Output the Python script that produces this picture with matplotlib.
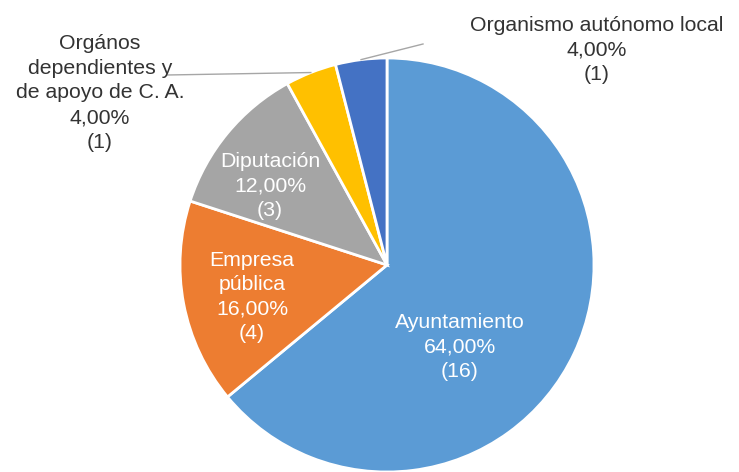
import matplotlib.pyplot as plt
import numpy as np

labels = ['Ayuntamiento', 'Empresa\npública', 'Diputación',
          'Orgános\ndependientes y\nde apoyo de C. A.', 'Organismo autónomo local']
counts = [16, 4, 3, 1, 1]
colors = ['#5B9BD5', '#ED7D31', '#A5A5A5', '#FFC000', '#4472C4']

W, H = 739, 472
cx, cy, r = 387, H - 265, 207

# label anchor points (pixels, image y from top) and whether it sits inside the slice
label_pos = [(460, 347), (252, 297), (270, 186), (100, 93), (597, 50)]
inside = [True, True, True, False, False]
leader_end = [None, None, None, (167, 75), (423, 44)]

plt.rcParams['font.family'] = ['Liberation Sans', 'DejaVu Sans']

fig = plt.figure(figsize=(W / 100, H / 100), dpi=100)
ax = fig.add_axes([0, 0, 1, 1])
ax.axis('off')

wedges, _ = ax.pie(counts, colors=colors, startangle=90, counterclock=False,
                   center=(cx, cy), radius=r,
                   wedgeprops=dict(edgecolor='white', linewidth=2))
ax.set_xlim(0, W)
ax.set_ylim(0, H)
ax.set_aspect('equal')

total = sum(counts)
for w, lab, n, (lx, ly), ins, end in zip(wedges, labels, counts, label_pos, inside, leader_end):
    pct = f'{100 * n / total:.2f}'.replace('.', ',') + '%'
    txt = f'{lab}\n{pct}\n({n})'
    ax.text(lx, H - ly, txt, ha='center', va='center', fontsize=15.3,
            color='white' if ins else '#333333', linespacing=1.37)
    if end is not None:
        mid = np.deg2rad((w.theta1 + w.theta2) / 2)
        x0 = cx + r * np.cos(mid)
        y0 = cy + r * np.sin(mid)
        ax.plot([x0, end[0]], [y0, H - end[1]], color='#A6A6A6', lw=1)

fig.savefig('out.png', dpi=100)
